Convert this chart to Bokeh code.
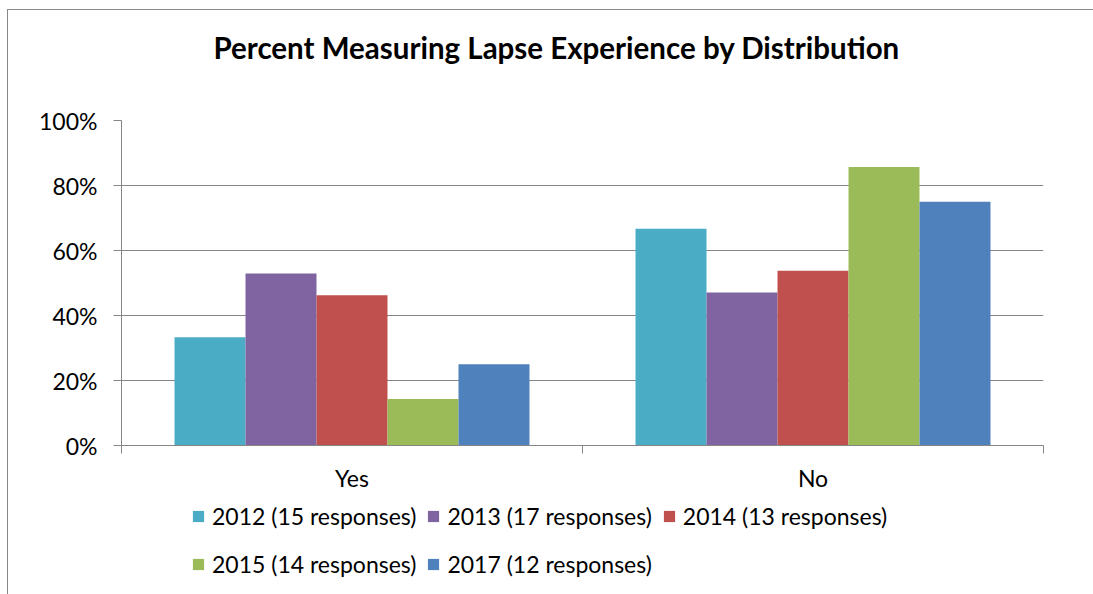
from bokeh.plotting import figure
from bokeh.layouts import column
from bokeh.models import (ColumnDataSource, FixedTicker, NumeralTickFormatter, Legend, LegendItem,
                          Range1d, Title)
from bokeh.embed import file_html
from bokeh.resources import INLINE

categories = ["Yes", "No"]
series = ["2012 (15 responses)", "2013 (17 responses)", "2014 (13 responses)",
          "2015 (14 responses)", "2017 (12 responses)"]
v2012 = [0.333, 0.667]
v2013 = [0.529, 0.471]
v2014 = [0.462, 0.538]
v2015 = [0.143, 0.857]
v2017 = [0.25, 0.75]
values = [v2012, v2013, v2014, v2015, v2017]
colors = ["#4BACC6", "#8064A2", "#C0504D", "#9BBB59", "#4F81BD"]
title_text = "Percent Measuring Lapse Experience by Distribution"

FONT = "Lato"
bar_w = 0.154

p = figure(width=1085, height=489, output_backend="svg", toolbar_location=None,
           x_range=Range1d(0, len(categories)), y_range=Range1d(0, 1),
           min_border_left=113, min_border_right=50, min_border_top=110, min_border_bottom=54)

# spacer between frame and title, then the title itself
p.add_layout(Title(text=" ", text_font_size="1px", standoff=53), "above")
p.add_layout(Title(text=title_text, align="left", offset=92, vertical_align="bottom",
                   standoff=0, text_font=FONT, text_font_size="29.5px",
                   text_font_style="bold", text_color="#000000"), "above")

sources = []
for i, (name, vals, c) in enumerate(zip(series, values, colors)):
    xs = [k + 0.5 + (i - 2) * bar_w for k in range(len(categories))]
    src = ColumnDataSource(dict(x=xs, top=vals))
    sources.append(src)
    p.vbar(x="x", top="top", bottom=0, width=bar_w, source=src, fill_color=c, line_color=None)

p.outline_line_color = None
p.xgrid.visible = False
p.ygrid.grid_line_color = "#868686"
p.ygrid.grid_line_width = 1
p.yaxis.ticker = FixedTicker(ticks=[0, 0.2, 0.4, 0.6, 0.8, 1.0])
p.yaxis.formatter = NumeralTickFormatter(format="0%")
p.yaxis.axis_line_color = "#868686"
p.yaxis.major_tick_line_color = "#868686"
p.yaxis.major_tick_out = 8
p.yaxis.major_tick_in = 0
p.yaxis.minor_tick_line_color = None
p.yaxis.major_label_text_font = FONT
p.yaxis.major_label_text_font_size = "23px"
p.yaxis.major_label_text_color = "#000000"
p.yaxis.major_label_standoff = 16

p.xaxis.ticker = FixedTicker(ticks=[k + 0.5 for k in range(len(categories))],
                             minor_ticks=list(range(len(categories) + 1)))
p.xaxis.major_label_overrides = {k + 0.5: c for k, c in enumerate(categories)}
p.xaxis.axis_line_color = "#868686"
p.xaxis.major_tick_line_color = None
p.xaxis.minor_tick_line_color = "#868686"
p.xaxis.minor_tick_out = 8
p.xaxis.minor_tick_in = 0
p.xaxis.major_label_text_font = FONT
p.xaxis.major_label_text_font_size = "23px"
p.xaxis.major_label_text_color = "#000000"
p.xaxis.major_label_standoff = 10

# legend figure (bars drawn outside its visible range so only the legend shows)
lf = figure(width=1085, height=95, output_backend="svg", toolbar_location=None,
            x_range=Range1d(0, 1), y_range=Range1d(2, 3),
            min_border_left=0, min_border_right=0, min_border_top=0, min_border_bottom=0)
lf.axis.visible = False
lf.grid.visible = False
lf.outline_line_color = None
items = []
for name, src, c in zip(series, sources, colors):
    r = lf.vbar(x="x", top="top", bottom=0, width=bar_w, source=src, fill_color=c, line_color=None)
    items.append(LegendItem(label=name, renderers=[r]))

legend = Legend(items=items, orientation="horizontal", ncols=3,
                location=(70, 11), padding=0, margin=0, border_line_color=None,
                background_fill_alpha=0, glyph_width=14, glyph_height=14,
                label_standoff=7, spacing=10, label_height=38,
                label_text_font=FONT, label_text_font_size="23px", label_text_color="#000000")
lf.add_layout(legend, "center")

layout = column(p, lf, spacing=0)
layout.styles = {"border-left": "1px solid #888888", "border-top": "1px solid #888888",
                 "margin-left": "7px", "margin-top": "9px"}

open("out.html", "w").write(file_html(layout, INLINE))
